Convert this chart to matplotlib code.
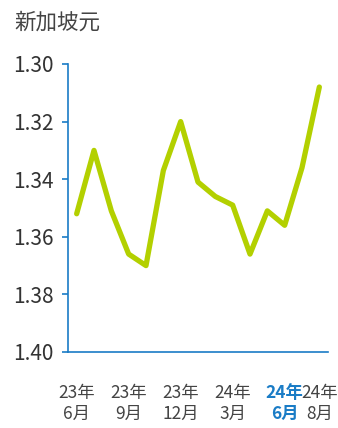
import matplotlib
matplotlib.use("Agg")
import matplotlib.pyplot as plt

plt.rcParams['font.family'] = ['Noto Sans CJK JP', 'DejaVu Sans']

values = [1.352, 1.330, 1.351, 1.366, 1.370, 1.337, 1.320, 1.341, 1.346, 1.349,
          1.366, 1.351, 1.356, 1.336, 1.308]
tick_pos = [0, 3, 6, 9, 12, 14]
tick_labels = ["23年\n6月", "23年\n9月", "23年\n12月", "24年\n3月", "24年\n6月", "24年\n8月"]
yticks = [1.30, 1.32, 1.34, 1.36, 1.38, 1.40]
title = "新加坡元"

W, H = 338, 428
fig = plt.figure(figsize=(W / 100, H / 100), dpi=100)
ax = fig.add_axes([68 / W, 1 - 352 / H, (328 - 68) / W, (352 - 64) / H])

blue = "#1a7cc6"
ax.plot(range(len(values)), values, color="#b3d000", lw=3.8,
        solid_joinstyle="round", solid_capstyle="round")

ax.set_ylim(1.40, 1.30)
ax.set_xlim(-0.5, 14.5)
ax.set_yticks(yticks)
ax.set_yticklabels([f"{v:.2f}" for v in yticks])
ax.set_xticks(tick_pos)
ax.set_xticklabels(tick_labels, linespacing=1.2)

for s in ["top", "right"]:
    ax.spines[s].set_visible(False)
for s in ["left", "bottom"]:
    ax.spines[s].set_color(blue)
    ax.spines[s].set_linewidth(1.2)

ax.tick_params(axis="y", length=4.5, width=1.2, color=blue, pad=6,
               labelsize=15, labelcolor="#333333")
ax.tick_params(axis="x", length=0, pad=23, labelsize=12.5, labelcolor="#444444")

lbls = ax.get_xticklabels()
lbls[4].set_color(blue)
lbls[4].set_fontweight("bold")

fig.text(14 / W, 1 - 23 / H, title, fontsize=15.5, color="#444444",
         ha="left", va="center")

fig.savefig("out.png", dpi=100)
